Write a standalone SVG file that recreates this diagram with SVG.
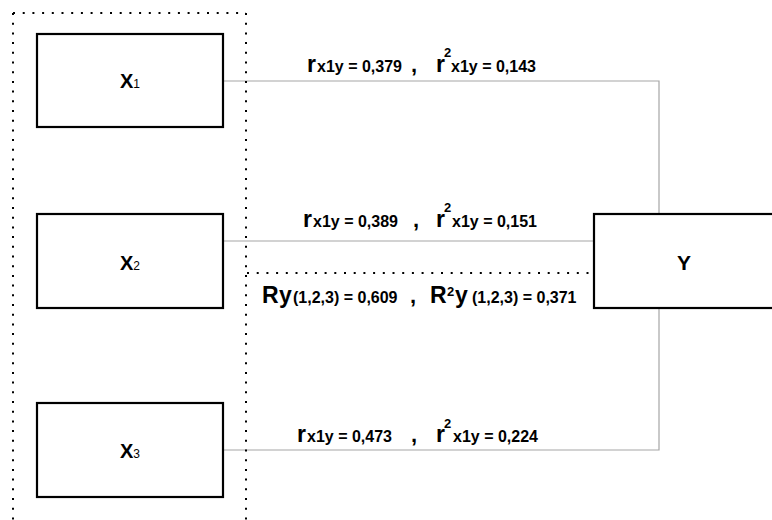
<svg xmlns="http://www.w3.org/2000/svg" width="772" height="520" viewBox="0 0 772 520">
<style>
.box{fill:#fff;stroke:#000;stroke-width:2.2}
.dot{fill:none;stroke:#000;stroke-width:2;stroke-dasharray:2 7.7}
.con{fill:none;stroke:#a6a6a6;stroke-width:1.2}
text{font-family:"Liberation Sans",Arial,sans-serif;font-weight:bold;fill:#000}
.big{font-size:23px}
.sm{font-size:16px}
.sup{font-size:13px}
.cm{font-size:22px}
.lbl{font-size:20px}
.sub{font-size:12px;font-weight:normal}
</style>
<rect width="772" height="520" fill="#fff"/>
<g id="connectors">
<polyline class="con" points="223,81 659,81 659,214"/>
<line class="con" x1="223" y1="241" x2="594" y2="241"/>
<polyline class="con" points="223,450 659,450 659,308"/>
</g>
<g id="group-x">
<path class="dot" d="M13,13 H246 M13,13 V530 M246,13 V530"/>
<line class="dot" x1="247" y1="273" x2="594" y2="273"/>
</g>
<g id="x1">
<rect class="box" x="37" y="34" width="186" height="93"/>
<text x="130" y="88" text-anchor="middle"><tspan class="lbl">X</tspan><tspan class="sub">1</tspan></text>
</g>
<g id="x2">
<rect class="box" x="37" y="214" width="186" height="94"/>
<text x="130" y="270" text-anchor="middle"><tspan class="lbl">X</tspan><tspan class="sub">2</tspan></text>
</g>
<g id="x3">
<rect class="box" x="37" y="403" width="186" height="94"/>
<text x="130" y="458" text-anchor="middle"><tspan class="lbl">X</tspan><tspan class="sub">3</tspan></text>
</g>
<g id="y">
<rect class="box" x="594" y="214" width="182" height="94"/>
<text x="684" y="270" text-anchor="middle" class="lbl" style="font-size:21px">Y</text>
</g>
<g id="labels">
<text y="72"><tspan class="big" x="307">r</tspan><tspan class="sm" x="317">x1y = 0,379</tspan><tspan class="cm" x="411">,</tspan><tspan class="big" x="436">r</tspan><tspan class="sup" x="444" y="57">2</tspan><tspan class="sm" x="451" y="72">x1y = 0,143</tspan></text>
<text y="227"><tspan class="big" x="303">r</tspan><tspan class="sm" x="313">x1y = 0,389</tspan><tspan class="cm" x="413">,</tspan><tspan class="big" x="436">r</tspan><tspan class="sup" x="444" y="212">2</tspan><tspan class="sm" x="452" y="227">x1y = 0,151</tspan></text>
<text y="303"><tspan class="big" x="262">R</tspan><tspan class="big" x="279">y</tspan><tspan class="sm" x="293">(1,2,3) = 0,609</tspan><tspan class="cm" x="410">,</tspan><tspan class="big" x="430">R</tspan><tspan class="sup" x="447" y="296">2</tspan><tspan class="big" x="455" y="303">y</tspan><tspan class="sm" x="472">(1,2,3) = 0,371</tspan></text>
<text y="442"><tspan class="big" x="297">r</tspan><tspan class="sm" x="307">x1y = 0,473</tspan><tspan class="cm" x="411">,</tspan><tspan class="big" x="436">r</tspan><tspan class="sup" x="444" y="428">2</tspan><tspan class="sm" x="453" y="442">x1y = 0,224</tspan></text>
</g>
</svg>
